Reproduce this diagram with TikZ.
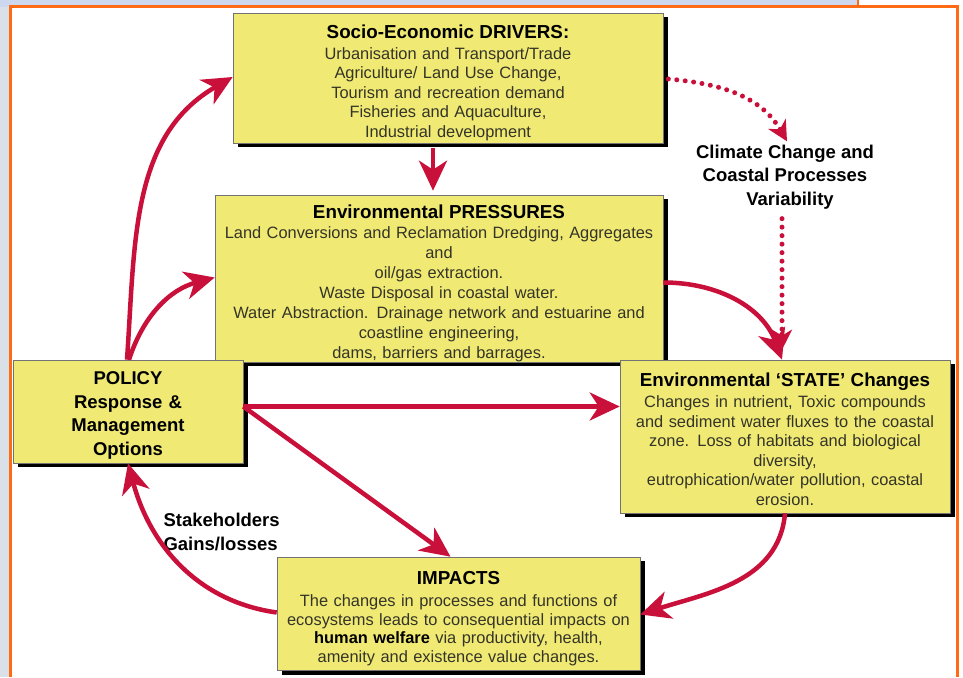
\documentclass[tikz,border=0pt]{standalone}
\usepackage{fontspec}
\setmainfont{Liberation Sans}
\usetikzlibrary{arrows.meta,shadows}
\definecolor{boxyellow}{RGB}{240,234,116}
\definecolor{arrowred}{RGB}{200,16,58}
\definecolor{bodygrey}{RGB}{52,52,40}
\definecolor{frameorange}{RGB}{255,106,20}
\definecolor{photobg}{RGB}{218,224,232}
\definecolor{topbg}{RGB}{205,216,238}
\newcommand\bodyf{\fontsize{16.4}{19.5}\selectfont}
\newcommand\titlef{\fontsize{18.8}{22}\selectfont\bfseries\color{black}}
\begin{document}
\begin{tikzpicture}[x=1pt,y=1pt,
  box/.style={draw=black!55, line width=0.6pt, fill=boxyellow,
    drop shadow={shadow xshift=4.5pt,shadow yshift=-4.5pt,fill=black,opacity=1},
    align=center, inner xsep=2pt, inner ysep=0pt, font=\bodyf, text=bodygrey},
  arr/.style={draw=arrowred, line width=4.5pt, -{Stealth[length=30pt,width=28pt,inset=9pt]}},
  dotarr/.style={draw=arrowred, line width=5pt, line cap=round, dash pattern=on 0pt off 8.5pt,
    -{Stealth[length=20pt,width=20pt,inset=6pt]}},
  lab/.style={font=\fontsize{18.5}{23.5}\selectfont\bfseries, text=black}]
\useasboundingbox (0,0) rectangle (963,677);
\fill[white] (0,0) rectangle (963,677);
\fill[photobg] (0,0) rectangle (10,677);
\fill[topbg] (0,670) rectangle (858,677);
\draw[frameorange, line width=3pt] (10,0) -- (10,670) -- (957,670) -- (957,0);
\draw[frameorange, line width=2.5pt] (858,670) -- (858,677);

\node[box, text width=426pt, minimum height=130pt] (drivers) at (448,599)
 {{\titlef\rule{0pt}{23pt}Socio-Economic DRIVERS:\par}\vspace{1.5pt}%
  Urbanisation and Transport/Trade\\ Agriculture/ Land Use Change,\\ Tourism and recreation demand\\ Fisheries and Aquaculture,\\ Industrial development};

\node[box, text width=444pt, minimum height=167pt, font=\fontsize{16.4}{20}\selectfont] (pressures) at (439,398.5)
 {{\titlef\rule{0pt}{23pt}Environmental PRESSURES\par}\vspace{0.5pt}%
  Land Conversions and Reclamation Dredging, Aggregates\\ and\\ oil/gas extraction.\\ Waste Disposal in coastal water.\\ Water Abstraction. Drainage network and estuarine and\\ coastline engineering,\\ dams, barriers and barrages.};

\node[box, text width=226pt, minimum height=103pt, font=\fontsize{18.5}{23.5}\selectfont\bfseries, text=black] (policy) at (128,265.5)
 {\rule{0pt}{21pt}POLICY\\ Response \&\\ Management\\ Options};

\node[box, text width=326pt, minimum height=153pt] (state) at (785,240.5)
 {{\titlef\rule{0pt}{19pt}Environmental ‘STATE’ Changes\par}\vspace{1.5pt}%
  Changes in nutrient, Toxic compounds\\ and sediment water fluxes to the coastal\\ zone. Loss of habitats and biological\\ diversity,\\ eutrophication/water pollution, coastal\\ erosion.};

\node[box, text width=359pt, minimum height=113pt, font=\fontsize{16.4}{18.5}\selectfont] (impacts) at (458.5,63.5)
 {{\titlef\rule{0pt}{23pt}IMPACTS\par}\vspace{4pt}%
  The changes in processes and functions of\\ ecosystems leads to consequential impacts on\\ {\bfseries\color{black}human welfare} via productivity, health,\\ amenity and existence value changes.};

\node[lab, align=center] (climate) at (785,500) {Climate Change and\\ Coastal Processes\\ \hspace*{10pt}Variability};
\node[lab, anchor=west, align=left] (stake) at (160,145) {Stakeholders\\ Gains/losses};

% connectors
\draw[arr] ([xshift=-15pt,yshift=-5pt]drivers.south) -- ([xshift=-6pt,yshift=4pt]pressures.north);
\draw[dotarr] ([xshift=5pt,yshift=-1pt]drivers.east) to[out=-5,in=120] ([xshift=2pt]climate.north);
\draw[dotarr] ([xshift=-3pt,yshift=-6pt]climate.south) -- ([xshift=-3pt,yshift=10pt]state.north);
\draw[arr] ([yshift=-4pt]pressures.east) to[out=0,in=110] ([xshift=-3pt]state.north);
\draw[arr] ([xshift=-1pt]policy.north) to[out=86,in=210] ([yshift=1pt]drivers.west);
\draw[arr] ([xshift=1pt]policy.north) to[out=72,in=195] ([yshift=1pt]pressures.west);
\draw[arr] ([yshift=5pt]policy.east) -- ([yshift=30pt]state.west);
\draw[arr] ([yshift=5pt]policy.east) -- ([xshift=-8pt]impacts.north);
\draw[arr] (state.south) to[out=-95,in=18] ([yshift=-1pt]impacts.east);
\draw[arr] ([yshift=1pt]impacts.west) to[out=172,in=-75] (policy.south);
\end{tikzpicture}
\end{document}
